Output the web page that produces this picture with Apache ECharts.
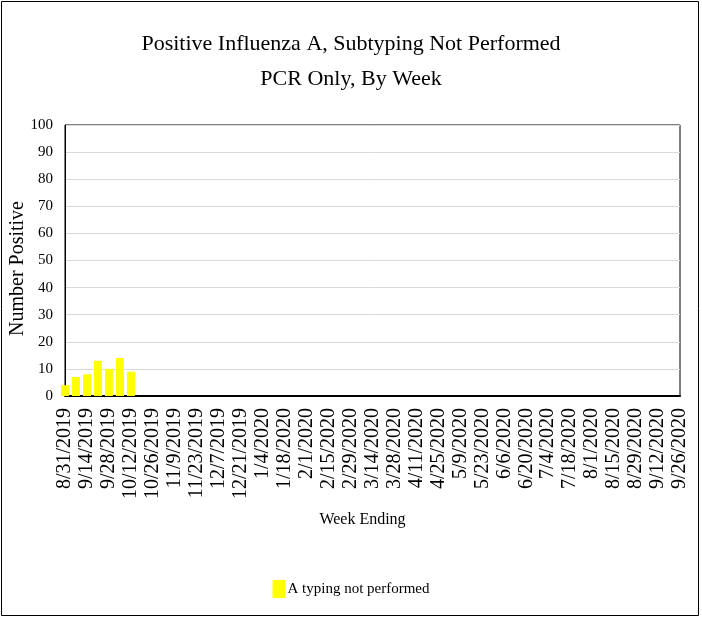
<!DOCTYPE html>
<html>
<head>
<meta charset="utf-8">
<script src="https://cdn.jsdelivr.net/npm/echarts@6/dist/echarts.min.js"></script>
<style>
html,body{margin:0;padding:0;background:#fff;}
#chart{width:702px;height:618px;}
</style>
</head>
<body>
<div id="chart"></div>
<script>
const titleText = 'Positive Influenza A, Subtyping Not Performed\nPCR Only, By Week';
const yAxisName = 'Number Positive';
const xAxisName = 'Week Ending';
const seriesName = 'A typing not performed';

const weeks = [
  '8/31/2019','9/7/2019','9/14/2019','9/21/2019','9/28/2019','10/5/2019','10/12/2019','10/19/2019',
  '10/26/2019','11/2/2019','11/9/2019','11/16/2019','11/23/2019','11/30/2019','12/7/2019','12/14/2019',
  '12/21/2019','12/28/2019','1/4/2020','1/11/2020','1/18/2020','1/25/2020','2/1/2020','2/8/2020',
  '2/15/2020','2/22/2020','2/29/2020','3/7/2020','3/14/2020','3/21/2020','3/28/2020','4/4/2020',
  '4/11/2020','4/18/2020','4/25/2020','5/2/2020','5/9/2020','5/16/2020','5/23/2020','5/30/2020',
  '6/6/2020','6/13/2020','6/20/2020','6/27/2020','7/4/2020','7/11/2020','7/18/2020','7/25/2020',
  '8/1/2020','8/8/2020','8/15/2020','8/22/2020','8/29/2020','9/5/2020','9/12/2020','9/19/2020','9/26/2020'
];

const positives = [
  4, 7, 8, 13, 10, 14, 9, 0,
  0, 0, 0, 0, 0, 0, 0, 0,
  0, 0, 0, 0, 0, 0, 0, 0,
  0, 0, 0, 0, 0, 0, 0, 0,
  0, 0, 0, 0, 0, 0, 0, 0,
  0, 0, 0, 0, 0, 0, 0, 0,
  0, 0, 0, 0, 0, 0, 0, 0, 0
];

const yMin = 0, yMax = 100, yStep = 10;

const serif = '"Liberation Serif", "Times New Roman", serif';
const chart = echarts.init(document.getElementById('chart'), null, {renderer: 'canvas'});
chart.setOption({
  backgroundColor: '#ffffff',
  animation: false,
  title: {
    text: titleText,
    left: 'center',
    top: 22,
    padding: [5, 5, 5, 37],
    textStyle: {fontFamily: serif, fontSize: 22, fontWeight: 'normal', color: '#000', lineHeight: 35, align: 'center'}
  },
  graphic: [{
    type: 'rect',
    shape: {x: 1.5, y: 1.5, width: 697, height: 614},
    style: {fill: 'none', stroke: '#000', lineWidth: 1},
    silent: true
  }],
  legend: {
    data: [seriesName],
    left: 'center',
    top: 575,
    icon: 'rect',
    itemWidth: 13,
    itemHeight: 18,
    textStyle: {fontFamily: serif, fontSize: 15, color: '#000', padding: [0, 0, 0, -3]}
  },
  grid: {
    left: 65, right: 22, top: 125, bottom: 222,
    show: true, borderColor: '#000', borderWidth: 1,
    containLabel: false, outerBoundsMode: 'none'
  },
  xAxis: {
    type: 'category',
    data: weeks,
    boundaryGap: false,
    name: xAxisName,
    nameLocation: 'middle',
    nameGap: 116,
    nameMoveOverlap: false,
    nameTextStyle: {fontFamily: serif, fontSize: 16, color: '#000', verticalAlign: 'top', padding: [0, 20, 0, 0]},
    axisLine: {lineStyle: {color: '#000', width: 2}},
    axisTick: {show: false},
    axisLabel: {interval: 1, rotate: 90, fontFamily: serif, fontSize: 20, color: '#000', margin: 12},
    splitLine: {show: false}
  },
  yAxis: {
    type: 'value',
    min: yMin, max: yMax, interval: yStep,
    name: yAxisName,
    nameLocation: 'middle',
    nameGap: 37,
    nameRotate: 90,
    nameMoveOverlap: false,
    nameTextStyle: {fontFamily: serif, fontSize: 20, color: '#000', padding: [0, 16, 0, 0]},
    axisLine: {show: true, lineStyle: {color: '#000', width: 1}},
    axisTick: {show: false},
    axisLabel: {fontFamily: serif, fontSize: 15, color: '#000', margin: 12},
    splitLine: {lineStyle: {color: '#d9d9d9', width: 1}}
  },
  series: [{
    name: seriesName,
    type: 'bar',
    data: positives,
    barWidth: 8,
    clip: true,
    itemStyle: {color: '#ffff00'}
  }]
});
</script>
</body>
</html>
